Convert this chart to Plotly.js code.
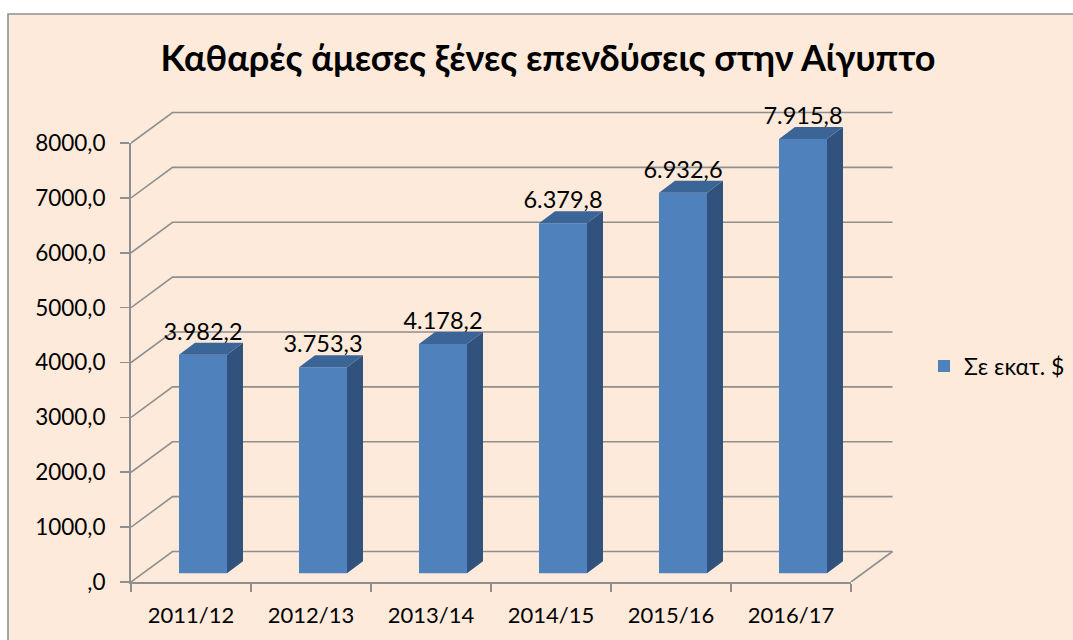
<!DOCTYPE html>
<html>
<head>
<meta charset="utf-8">
<script src="https://cdn.plot.ly/plotly-3.0.1.min.js"></script>
<style>html,body{margin:0;padding:0;background:#fff}#c{width:1073px;height:640px}</style>
</head>
<body>
<div id="c"></div>
<script>
const categories = ['2011/12','2012/13','2013/14','2014/15','2015/16','2016/17'];
const values = [3982.2,3753.3,4178.2,6379.8,6932.6,7915.8];
const valueLabels = ['3.982,2','3.753,3','4.178,2','6.379,8','6.932,6','7.915,8'];
const yTicks = [0,1000,2000,3000,4000,5000,6000,7000,8000];
const yTickLabels = [',0','1000,0','2000,0','3000,0','4000,0','5000,0','6000,0','7000,0','8000,0'];
const seriesName = 'Σε εκατ. $';
const titleText = 'Καθαρές άμεσες ξένες επενδύσεις στην Αίγυπτο';

const W=1073,H=640;
const L=131,R=851,T=143,B=582;          // front axes box (px)
const PR=905,PT=95;                     // outer box for the 3-D marks (px)
const ux=1/120, uy=8000/(B-T);          // data units per pixel
const wallDx=41.5*ux, wallDy=30.5*uy;   // depth of the box
const barDx=16*ux, barDy=12*uy;         // depth of a bar
const barShift=12*ux, barBase=8.7*uy;   // bars sit inside the floor
const barW=48*ux;
const font='Lato, "Open Sans", "Noto Sans", sans-serif';
const grid='#8f8f8f';
const xs=categories.map((_,i)=>i);
const xMin=-0.5,xMax=categories.length-0.5;
const xMaxOuter=xMax+(PR-R)*ux, yMaxOuter=8000+(T-PT)*uy;
const fx=px=>(px-L)/(PR-L), fy=py=>(B-py)/(B-PT);

// back wall and side wall gridlines + floor, under every trace
const gridShapes=yTicks.map(v=>({type:'path',xref:'x2',yref:'y2',layer:'below',
  path:`M${xMin},${v}L${xMin+wallDx},${v+wallDy}L${xMax+wallDx},${v+wallDy}`,
  line:{color:grid,width:1.6}}));
gridShapes.push({type:'line',xref:'x2',yref:'y2',layer:'below',x0:xMax,y0:0,x1:xMax+wallDx,y1:wallDy,line:{color:grid,width:1.6}});

const left=xs.map(i=>i+barShift-barW/2), right=xs.map(i=>i+barShift+barW/2);
const sideX=[],sideY=[],topX=[],topY=[];
xs.forEach(i=>{
  const t=values[i]+barBase;
  sideX.push(right[i],right[i]+barDx,right[i]+barDx,right[i],right[i],null);
  sideY.push(barBase,barBase+barDy,t+barDy,t,barBase,null);
  topX.push(left[i],left[i]+barDx,right[i]+barDx,right[i],left[i],null);
  topY.push(t,t+barDy,t+barDy,t,t,null);
});
const faces=[
 {x:sideX,y:sideY,c:'#31527c'},
 {x:topX,y:topY,c:'#3b6596'}
].map(f=>({type:'scatter',mode:'lines',x:f.x,y:f.y,fill:'toself',fillcolor:f.c,line:{width:0,color:f.c},xaxis:'x2',yaxis:'y2',showlegend:false,hoverinfo:'skip'}));

const barTrace={type:'bar',name:seriesName,x:xs.map(i=>i+barShift),y:values,base:barBase,width:barW,xaxis:'x2',yaxis:'y2',
  marker:{color:'#4f81bd',line:{width:0}},showlegend:true};
const labelTrace={type:'scatter',mode:'text',x:xs.map(i=>i+barShift),y:values.map(v=>v+barBase+21*uy),text:valueLabels,
  textposition:'middle center',textfont:{family:font,size:23.5,color:'#000'},xaxis:'x2',yaxis:'y2',showlegend:false,hoverinfo:'skip'};
const axisTrace={type:'scatter',mode:'none',x:xs,y:values,xaxis:'x',yaxis:'y',showlegend:false,hoverinfo:'skip'};

const layout={
  width:W,height:H,showlegend:true,
  margin:{l:L,r:W-PR,t:PT,b:H-B,pad:0,autoexpand:false},
  paper_bgcolor:'#ffffff',plot_bgcolor:'rgba(0,0,0,0)',
  font:{family:font,color:'#000'},
  title:{text:titleText,font:{family:font,size:36,weight:700,color:'#000'},x:548/W,xanchor:'center',y:1-58/H,yanchor:'middle'},
  xaxis:{type:'linear',domain:[0,fx(R)],anchor:'y',range:[xMin,xMax],tickmode:'array',tickvals:xs,ticktext:categories,ticks:'',ticklen:0,
    showgrid:false,zeroline:false,showline:true,linecolor:grid,linewidth:2,
    ticklabelstandoff:13,tickfont:{family:font,size:22,color:'#000'},
    minor:{tickmode:'array',tickvals:[-0.5,0.5,1.5,2.5,3.5,4.5,5.5],ticks:'outside',ticklen:8,tickwidth:1.6,tickcolor:grid,showgrid:false}},
  yaxis:{type:'linear',domain:[0,fy(T)],anchor:'x',range:[0,8000],tickmode:'array',tickvals:yTicks,ticktext:yTickLabels,ticks:'outside',ticklen:9,tickwidth:1.6,tickcolor:grid,
    showgrid:false,zeroline:false,showline:true,linecolor:grid,linewidth:2,ticklabelstandoff:10,
    tickfont:{family:font,size:22.5,color:'#000'}},
  xaxis2:{type:'linear',domain:[0,1],anchor:'y2',range:[xMin,xMaxOuter],visible:false,fixedrange:true},
  yaxis2:{type:'linear',domain:[0,1],anchor:'x2',range:[0,yMaxOuter],visible:false,fixedrange:true},
  legend:{x:fx(924),xanchor:'left',y:fy(366),yanchor:'middle',bgcolor:'rgba(0,0,0,0)',font:{family:font,size:23,color:'#000'}},
  shapes:[{type:'rect',xref:'paper',yref:'paper',layer:'below',
    x0:fx(8),x1:fx(W+10),y0:fy(H+10),y1:fy(14),
    fillcolor:'#fdeada',line:{color:'#8f8f8f',width:1.6}},...gridShapes]
};
Plotly.newPlot('c',[axisTrace,barTrace,...faces,labelTrace],layout,{displayModeBar:false,staticPlot:true});
</script>
</body>
</html>
